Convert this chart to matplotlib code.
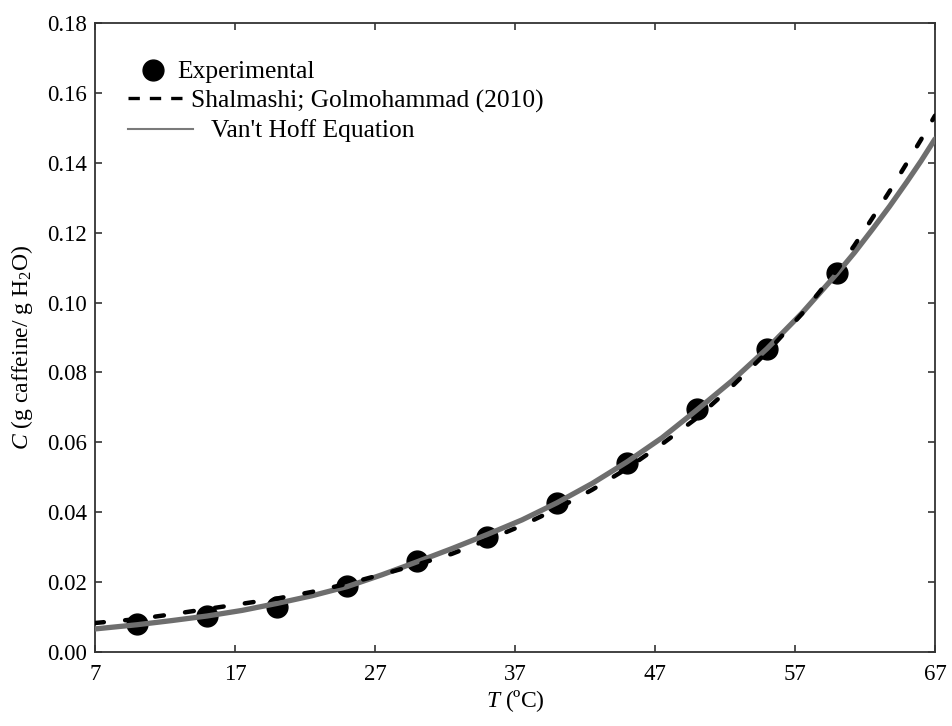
import matplotlib
matplotlib.use("Agg")
import matplotlib.pyplot as plt
from matplotlib.lines import Line2D

plt.rcParams['font.family'] = ['Liberation Serif', 'DejaVu Serif']
plt.rcParams['mathtext.fontset'] = 'custom'
plt.rcParams['mathtext.rm'] = 'Liberation Serif'
plt.rcParams['mathtext.it'] = 'Liberation Serif:italic'

# Experimental data
T_exp = [10, 15, 20, 25, 30, 35, 40, 45, 50, 55, 60]
C_exp = [0.0080, 0.0103, 0.0130, 0.0188, 0.0259, 0.0330, 0.0426, 0.0542, 0.0695, 0.0868, 0.1085]

# Curves
T_curve = [7, 10, 12.5, 15, 17.5, 20, 22.5, 25, 27.5, 30, 32.5, 35, 37.5, 40,
           42.5, 45, 47.5, 50, 52.5, 55, 57.5, 60, 61.25, 62.5, 63.75, 65, 66, 67]
C_shalmashi = [0.0083, 0.0094, 0.0108, 0.0123, 0.0138, 0.0153, 0.0172, 0.0195,
               0.0222, 0.0250, 0.0281, 0.0320, 0.0362, 0.0410, 0.0464, 0.0525,
               0.0595, 0.0670, 0.0760, 0.0858, 0.0968, 0.1093, 0.1164, 0.1240,
               0.1318, 0.1400, 0.1466, 0.1535]
C_vanthoff = [0.0066, 0.0078, 0.0090, 0.0103, 0.0119, 0.0139, 0.0161, 0.0187,
              0.0221, 0.0258, 0.0296, 0.0336, 0.0378, 0.0427, 0.0482, 0.0544,
              0.0613, 0.0693, 0.0776, 0.0868, 0.0970, 0.1083, 0.1143, 0.1208,
              0.1275, 0.1346, 0.1405, 0.1468]

x_ticks = [7, 17, 27, 37, 47, 57, 67]
y_ticks = [0.00, 0.02, 0.04, 0.06, 0.08, 0.10, 0.12, 0.14, 0.16, 0.18]

fig = plt.figure(figsize=(9.52, 7.26), dpi=100)
ax = fig.add_axes([95/952, 74/726, 840/952, 629/726])

ax.plot(T_exp, C_exp, 'o', color='black', markersize=15, zorder=2, clip_on=False)
ax.plot(T_curve, C_vanthoff, '-', color='#6e6e6e', linewidth=3.8, zorder=3,
        solid_capstyle='round', solid_joinstyle='round')
ax.plot(T_curve, C_shalmashi, color='black', linewidth=3.2, zorder=4,
        dashes=(2.0, 4.8), dash_capstyle='round')

ax.set_xlim(7, 67)
ax.set_ylim(0, 0.18)
ax.set_xticks(x_ticks)
ax.set_yticks(y_ticks)
ax.set_yticklabels([f"{v:.2f}" for v in y_ticks])
ax.tick_params(direction='in', length=5, width=1.2, color='#333333',
               top=True, right=True, labelsize=16.5)
ax.tick_params(axis='x', pad=9)
ax.tick_params(axis='y', pad=6)
for s in ax.spines.values():
    s.set_linewidth(1.3)
    s.set_color('#333333')

ax.set_xlabel(r'$T$ (ºC)', fontsize=17, labelpad=2)
ax.set_ylabel(r'$C$ (g caffeine/ g H$_2$O)', fontsize=17, labelpad=5)
ax.yaxis.set_label_coords(-0.071, 0.485)

fs = 18.4
h1 = Line2D([], [], marker='o', color='black', linestyle='none', markersize=15)
h2 = Line2D([], [], color='black', linewidth=2.4, dashes=(3.4, 3.0))
h3 = Line2D([], [], color='#7a7a7a', linewidth=1.5)

def px2ax(px, py):
    return ((px - 95) / 840.0, (652 - py) / 629.0)

common = dict(frameon=False, loc='center left', borderpad=0, borderaxespad=0,
              fontsize=fs, handleheight=0.7)
leg1 = ax.legend([h1], ['Experimental'], bbox_to_anchor=px2ax(136, 72),
                 handlelength=1.35, handletextpad=0.28, **common)
ax.add_artist(leg1)
leg2 = ax.legend([h2], ['Shalmashi; Golmohammad (2010)'], bbox_to_anchor=px2ax(128, 101),
                 handlelength=2.19, handletextpad=0.28, **common)
ax.add_artist(leg2)
leg3 = ax.legend([h3], ["Van't Hoff Equation"], bbox_to_anchor=px2ax(128, 131),
                 handlelength=2.54, handletextpad=0.72, **common)

fig.savefig('out.png', dpi=100)
